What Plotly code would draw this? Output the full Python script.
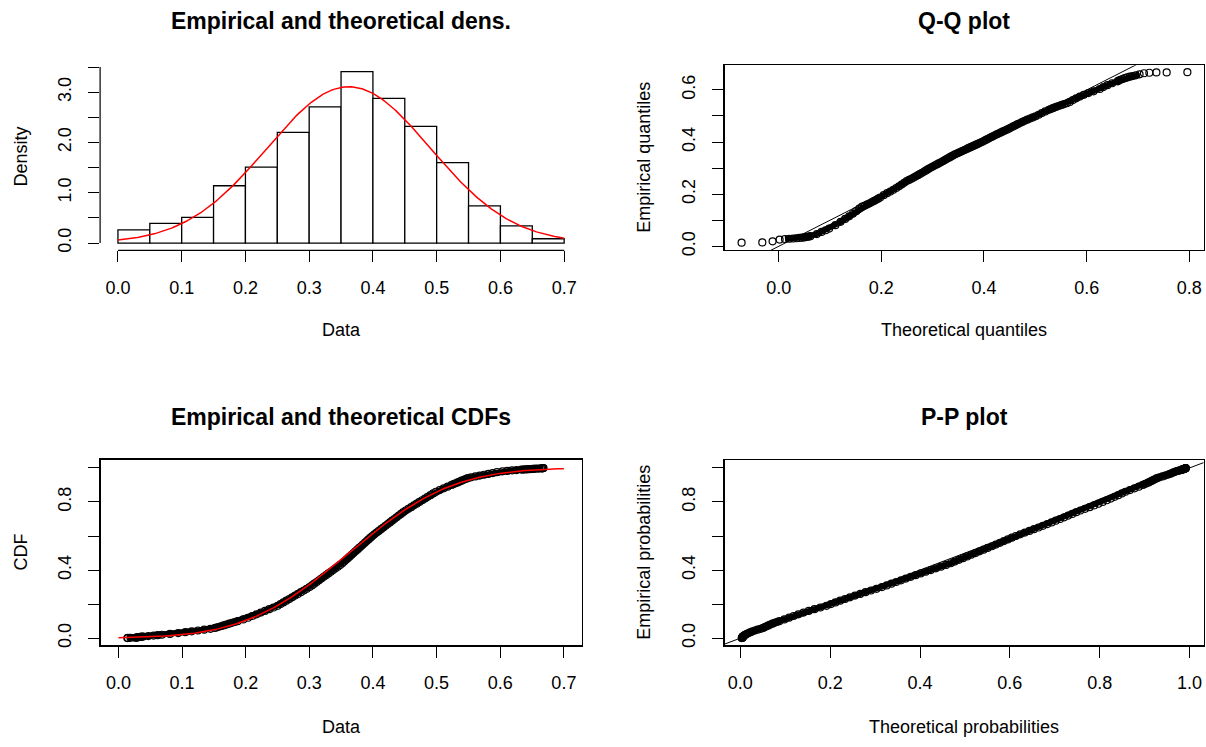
import numpy as np
import plotly.graph_objects as go
from statistics import NormalDist

# ---------------- data ----------------
hist_edges = [0.0, 0.05, 0.10, 0.15, 0.20, 0.25, 0.30, 0.35, 0.40, 0.45, 0.50, 0.55, 0.60, 0.65, 0.70]
hist_density = [0.26, 0.39, 0.51, 1.14, 1.51, 2.20, 2.71, 3.41, 2.88, 2.32, 1.60, 0.74, 0.34, 0.085]

# fitted normal distribution (red curves)
fit_mean = 0.362
fit_sd = 0.1283

# plotting probabilities and the empirical quantiles read from the Q-Q / CDF panels
probs = [
    0.000357, 0.001071, 0.001786, 0.0025, 0.003214, 0.003929, 0.004643, 0.005357,
    0.006071, 0.006786, 0.0075, 0.008214, 0.008929, 0.009643,
    0.0125, 0.015, 0.0175, 0.02,
    0.025, 0.03, 0.035, 0.04, 0.045, 0.05, 0.055, 0.06, 0.065, 0.07, 0.075, 0.08,
    0.085, 0.09, 0.095,
    0.10, 0.11, 0.12, 0.13, 0.14, 0.15, 0.16, 0.17, 0.18, 0.19,
    0.20, 0.21, 0.22, 0.23, 0.24, 0.25, 0.26, 0.27, 0.28, 0.29,
    0.30, 0.31, 0.32, 0.33, 0.34, 0.35, 0.36, 0.37, 0.38, 0.39,
    0.40, 0.41, 0.42, 0.43, 0.44, 0.45, 0.46, 0.47, 0.48, 0.49,
    0.50, 0.51, 0.52, 0.53, 0.54, 0.55, 0.56, 0.57, 0.58, 0.59,
    0.60, 0.61, 0.62, 0.63, 0.64, 0.65, 0.66, 0.67, 0.68, 0.69,
    0.70, 0.71, 0.72, 0.73, 0.74, 0.75, 0.76, 0.77, 0.78, 0.79,
    0.80, 0.81, 0.82, 0.83, 0.84, 0.85, 0.86, 0.87, 0.88, 0.89,
    0.90, 0.905, 0.91, 0.915, 0.92, 0.925, 0.93, 0.935, 0.94, 0.945,
    0.95, 0.955, 0.96, 0.965, 0.97, 0.975, 0.98,
    0.9825, 0.985, 0.9875, 0.99,
    0.990357, 0.991071, 0.991786, 0.9925, 0.993214, 0.993929, 0.994643, 0.995357,
    0.996071, 0.996786, 0.9975, 0.998214, 0.998929, 0.999643,
]
emp_quantiles = [
    0.014, 0.015, 0.019, 0.026, 0.028, 0.029, 0.030, 0.031,
    0.032, 0.033, 0.034, 0.036, 0.037, 0.039,
    0.047, 0.0553, 0.0617, 0.0682,
    0.0811, 0.0940, 0.1052, 0.1151, 0.1249, 0.1348, 0.1446, 0.1520, 0.1564, 0.1608, 0.1652, 0.1696,
    0.1740, 0.1784, 0.1828,
    0.1873, 0.1961, 0.2037, 0.2103, 0.2170, 0.2237, 0.2303, 0.2370, 0.2436, 0.2502,
    0.2548, 0.2593, 0.2639, 0.2685, 0.2730, 0.2776, 0.2822, 0.2867, 0.2913, 0.2959,
    0.3003, 0.3041, 0.3078, 0.3115, 0.3152, 0.3189, 0.3226, 0.3263, 0.3300, 0.3337,
    0.3374, 0.3411, 0.3448, 0.3485, 0.3518, 0.3547, 0.3577, 0.3606, 0.3636, 0.3665,
    0.3695, 0.3724, 0.3754, 0.3783, 0.3813, 0.3842, 0.3872, 0.3901, 0.3930, 0.3960,
    0.3989, 0.4022, 0.4057, 0.4092, 0.4127, 0.4162, 0.4197, 0.4232, 0.4267, 0.4301,
    0.4336, 0.4371, 0.4406, 0.4441, 0.4476, 0.4513, 0.4557, 0.4600, 0.4643, 0.4687,
    0.4730, 0.4773, 0.4817, 0.4860, 0.4903, 0.4946, 0.4990, 0.5048, 0.5111, 0.5174,
    0.5236, 0.5268, 0.5299, 0.5331, 0.5362, 0.5393, 0.5425, 0.5456, 0.5488, 0.5541,
    0.5609, 0.5677, 0.5745, 0.5812, 0.5880, 0.5948, 0.6035,
    0.6109, 0.6183, 0.6257, 0.6331,
    0.636, 0.639, 0.642, 0.645, 0.648, 0.651, 0.653, 0.656,
    0.660, 0.664, 0.666, 0.667, 0.667, 0.668,
]
assert len(probs) == len(emp_quantiles)

# tick values / labels
hist_xticks = [0.0, 0.1, 0.2, 0.3, 0.4, 0.5, 0.6, 0.7]
hist_xlabels = ["0.0", "0.1", "0.2", "0.3", "0.4", "0.5", "0.6", "0.7"]
hist_yticks = [0.0, 0.5, 1.0, 1.5, 2.0, 2.5, 3.0, 3.5]
hist_ylabels = ["0.0", "", "1.0", "", "2.0", "", "3.0", ""]
qq_xticks = [0.0, 0.2, 0.4, 0.6, 0.8]
qq_xlabels = ["0.0", "0.2", "0.4", "0.6", "0.8"]
qq_yticks = [0.0, 0.1, 0.2, 0.3, 0.4, 0.5, 0.6]
qq_ylabels = ["0.0", "", "0.2", "", "0.4", "", "0.6"]
cdf_yticks = [0.0, 0.2, 0.4, 0.6, 0.8, 1.0]
cdf_ylabels = ["0.0", "", "0.4", "", "0.8", ""]
pp_xticks = [0.0, 0.2, 0.4, 0.6, 0.8, 1.0]
pp_xlabels = ["0.0", "0.2", "0.4", "0.6", "0.8", "1.0"]

titles = ["Empirical and theoretical dens.", "Q-Q plot", "Empirical and theoretical CDFs", "P-P plot"]
xlabels = ["Data", "Theoretical quantiles", "Data", "Theoretical probabilities"]
ylabels = ["Density", "Empirical quantiles", "CDF", "Empirical probabilities"]

# ---------------- derived quantities ----------------
fit = NormalDist(fit_mean, fit_sd)
hist_mids = [(a + b) / 2 for a, b in zip(hist_edges[:-1], hist_edges[1:])]
hist_width = hist_edges[1] - hist_edges[0]
theo_quantiles = [fit.inv_cdf(p) for p in probs]
theo_probs = [fit.cdf(q) for q in emp_quantiles]
curve_x = np.linspace(hist_edges[0], hist_edges[-1], 301)
curve_pdf = [fit.pdf(v) for v in curve_x]
curve_cdf = [fit.cdf(v) for v in curve_x]
diag = [-1.0, 2.0]
qq_dense = slice(4, len(probs) - 5)   # where the Q-Q points overlap into a solid band

# ---------------- layout geometry (pixels) ----------------
W, H = 1206, 747
FONT = "Liberation Sans, Arial, sans-serif"


def xdom(p0, p1):
    return [p0 / W, p1 / W]


def ydom(top, bottom):
    return [1 - bottom / H, 1 - top / H]


panels = {
    # name: (left, right, top, bottom, xrange, yrange)
    "hist": (100.1, 582.0, 63.1, 252.5, [-0.028, 0.728], [-0.148, 3.59]),
    "qq": (724.6, 1203.5, 65.7, 252.3, [-0.1053, 0.8276], [-0.0152, 0.695]),
    "cdf": (100.6, 581.7, 463.3, 650.7, [-0.028, 0.728], [-0.043, 1.049]),
    "pp": (724.6, 1203.5, 464.0, 650.7, [-0.035, 1.031], [-0.043, 1.045]),
}

fig = go.Figure()

marker_style = dict(symbol="circle-open", size=7, color="black", line=dict(width=1.2, color="black"))
band_style = dict(color="black", width=6)

# Histogram
fig.add_trace(go.Bar(x=hist_mids, y=hist_density, width=hist_width,
                     marker=dict(color="white", line=dict(color="black", width=1.3)),
                     xaxis="x", yaxis="y", showlegend=False))
fig.add_trace(go.Scatter(x=curve_x, y=curve_pdf, mode="lines",
                         line=dict(color="red", width=1.5), xaxis="x", yaxis="y", showlegend=False))

# Q-Q
fig.add_trace(go.Scatter(x=theo_quantiles[qq_dense], y=emp_quantiles[qq_dense], mode="lines",
                         line=band_style, xaxis="x2", yaxis="y2", showlegend=False))
fig.add_trace(go.Scatter(x=theo_quantiles, y=emp_quantiles, mode="markers", marker=marker_style,
                         xaxis="x2", yaxis="y2", showlegend=False))
fig.add_trace(go.Scatter(x=diag, y=diag, mode="lines", line=dict(color="black", width=1),
                         xaxis="x2", yaxis="y2", showlegend=False))

# CDF
fig.add_trace(go.Scatter(x=emp_quantiles, y=probs, mode="lines", line=band_style,
                         xaxis="x3", yaxis="y3", showlegend=False))
fig.add_trace(go.Scatter(x=emp_quantiles, y=probs, mode="markers", marker=marker_style,
                         xaxis="x3", yaxis="y3", showlegend=False))
fig.add_trace(go.Scatter(x=curve_x, y=curve_cdf, mode="lines", line=dict(color="red", width=1.5),
                         xaxis="x3", yaxis="y3", showlegend=False))

# P-P
fig.add_trace(go.Scatter(x=theo_probs, y=probs, mode="lines", line=band_style,
                         xaxis="x4", yaxis="y4", showlegend=False))
fig.add_trace(go.Scatter(x=theo_probs, y=probs, mode="markers", marker=marker_style,
                         xaxis="x4", yaxis="y4", showlegend=False))
fig.add_trace(go.Scatter(x=diag, y=diag, mode="lines", line=dict(color="black", width=1),
                         xaxis="x4", yaxis="y4", showlegend=False))

tickfont = dict(family=FONT, size=18, color="black")


def axis(dom, rng, tv, tt, boxed, anchor, rotate=False):
    d = dict(domain=dom, range=rng, tickvals=tv, ticktext=tt, ticks="outside", ticklen=11,
             tickwidth=1, tickcolor="black", tickfont=tickfont, showgrid=False, zeroline=False,
             showline=boxed, mirror=boxed, linecolor="black", linewidth=1.2, anchor=anchor,
             fixedrange=True, ticklabelstandoff=10)
    if rotate:
        d["tickangle"] = -90
    return d


L, R_, T, B, xr, yr = panels["hist"]
layout_axes = {
    "xaxis": axis(xdom(L, R_), xr, hist_xticks, hist_xlabels, False, "y"),
    "yaxis": axis(ydom(T, B), yr, hist_yticks, hist_ylabels, False, "x", True),
}
L, R_, T, B, xr, yr = panels["qq"]
layout_axes["xaxis2"] = axis(xdom(L, R_), xr, qq_xticks, qq_xlabels, True, "y2")
layout_axes["yaxis2"] = axis(ydom(T, B), yr, qq_yticks, qq_ylabels, True, "x2", True)
L, R_, T, B, xr, yr = panels["cdf"]
layout_axes["xaxis3"] = axis(xdom(L, R_), xr, hist_xticks, hist_xlabels, True, "y3")
layout_axes["yaxis3"] = axis(ydom(T, B), yr, cdf_yticks, cdf_ylabels, True, "x3", True)
L, R_, T, B, xr, yr = panels["pp"]
layout_axes["xaxis4"] = axis(xdom(L, R_), xr, pp_xticks, pp_xlabels, True, "y4")
layout_axes["yaxis4"] = axis(ydom(T, B), yr, cdf_yticks, cdf_ylabels, True, "x4", True)

# R-style partial axis lines for the histogram panel
hL, hR, hT, hB, _, _ = panels["hist"]
shapes = [
    dict(type="line", xref="x", yref="paper", x0=hist_xticks[0], x1=hist_xticks[-1],
         y0=1 - hB / H, y1=1 - hB / H, line=dict(color="black", width=1.2)),
    dict(type="line", xref="paper", yref="y", x0=hL / W, x1=hL / W,
         y0=hist_yticks[0], y1=hist_yticks[-1], line=dict(color="black", width=1.2)),
]

annotations = []
order = ["hist", "qq", "cdf", "pp"]
title_y = [20.7, 20.7, 420.0, 420.0]
xlab_y = [333.0, 333.0, 733.0, 733.0]
ylab_x = [21.0, 644.0, 21.0, 644.0]
for i, key in enumerate(order):
    L, R_, T, B, _, _ = panels[key]
    cx = (L + R_) / 2
    cy = (T + B) / 2
    annotations.append(dict(text="<b>" + titles[i] + "</b>", x=cx / W, y=1 - title_y[i] / H,
                            xref="paper", yref="paper", showarrow=False, xanchor="center",
                            yanchor="middle", font=dict(family=FONT, size=23, color="black")))
    annotations.append(dict(text=xlabels[i], x=cx / W, y=1 - xlab_y[i] / H,
                            xref="paper", yref="paper", showarrow=False, xanchor="center",
                            yanchor="middle", font=dict(family=FONT, size=18, color="black")))
    annotations.append(dict(text=ylabels[i], x=ylab_x[i] / W, y=1 - cy / H, textangle=-90,
                            xref="paper", yref="paper", showarrow=False, xanchor="center",
                            yanchor="middle", font=dict(family=FONT, size=18, color="black")))

fig.update_layout(
    width=W, height=H, margin=dict(l=0, r=0, t=0, b=0),
    paper_bgcolor="white", plot_bgcolor="white",
    font=dict(family=FONT, color="black"),
    showlegend=False, bargap=0, hovermode=False,
    shapes=shapes, annotations=annotations,
    **layout_axes,
)

fig.write_html("out.html", config={"displayModeBar": False, "staticPlot": True},
               post_script="document.body.style.margin='0px';")
